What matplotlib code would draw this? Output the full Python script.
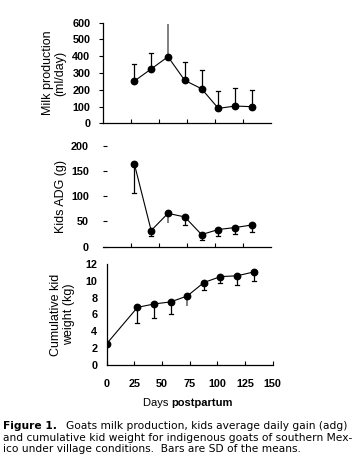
import matplotlib
matplotlib.use("Agg")
import matplotlib.pyplot as plt

plt.rcParams['font.family'] = ['Liberation Sans', 'DejaVu Sans']

# Data
days = [28, 43, 58, 73, 88, 103, 118, 133]
milk = [252, 324, 397, 256, 206, 89, 103, 99]
milk_sd = [102, 97, 195, 110, 112, 105, 106, 100]

adg = [164, 32, 66, 59, 24, 34, 38, 43]
adg_sd = [58, 11, 20, 16, 11, 13, 13, 14]

cum_days = [0, 28, 43, 58, 73, 88, 103, 118, 133]
cum_wt = [2.5, 6.85, 7.25, 7.5, 8.2, 9.8, 10.5, 10.6, 11.05]
cum_sd = [0, 1.85, 1.7, 1.45, 1.2, 0.9, 0.8, 1.05, 1.05]

grey_milk = 2   # index of grey error bar
grey_adg = 2
grey_cum = 4

W, H = 352, 469
fig = plt.figure(figsize=(W / 100, H / 100), dpi=100)

def fx(px):
    return px / W

def fy(py):
    return 1 - py / H

tick_fs = 7.8
lab_fs = 9.0

def draw_err(ax, x, y, sd, grey_idx, up):
    for i, (xi, yi, si) in enumerate(zip(x, y, sd)):
        if si <= 0:
            continue
        col = '#808080' if i == grey_idx else 'black'
        lw = 1.4 if i == grey_idx else 0.9
        y2 = yi + si if up else yi - si
        ax.plot([xi, xi], [yi, y2], color=col, lw=lw, zorder=2, solid_capstyle='butt')
        if i != grey_idx:
            ax.plot([xi - 1.8, xi + 1.8], [y2, y2], color='black', lw=0.9, zorder=2)

def style_ticklabels(ax):
    for lab in ax.get_xticklabels() + ax.get_yticklabels():
        lab.set_fontweight('bold')

def place_ylabel(ax, x):
    ax.yaxis.label.set_va('center')
    ax.yaxis.set_label_coords(x, 0.5)

# Top panel
ax1 = fig.add_axes([fx(103), fy(123.3), fx(168), (123.3 - 22.7) / H])
ax1.plot(days, milk, color='black', lw=0.8, marker='o', ms=4.6, zorder=3)
draw_err(ax1, days, milk, milk_sd, grey_milk, up=True)
ax1.set_xlim(0, 150)
ax1.set_ylim(0, 600)
ax1.set_yticks(range(0, 601, 100))
ax1.set_xticks([25, 50, 75, 100, 125])
ax1.tick_params(axis='x', direction='in', length=3, labelbottom=False, width=0.8)
ax1.tick_params(axis='y', direction='out', length=3, labelsize=tick_fs, width=0.8, pad=6)
ax1.spines['top'].set_visible(False)
ax1.spines['right'].set_visible(False)
ax1.set_ylabel('Milk production\n(ml/day)', fontsize=lab_fs, linespacing=1.05)
place_ylabel(ax1, (54 - 103) / 168)

# Middle panel
ax2 = fig.add_axes([fx(103), fy(246.7), fx(168), 101 / H])
ax2.plot(days, adg, color='black', lw=0.8, marker='o', ms=4.6, zorder=3)
draw_err(ax2, days, adg, adg_sd, grey_adg, up=False)
ax2.set_xlim(0, 150)
ax2.set_ylim(0, 200)
ax2.set_yticks(range(0, 201, 50))
ax2.set_xticks([25, 50, 75, 100, 125])
ax2.tick_params(axis='x', direction='in', length=3, labelbottom=False, width=0.8)
ax2.tick_params(axis='y', direction='in', length=3, labelsize=tick_fs, width=0.8, pad=10)
for s in ['top', 'right', 'left']:
    ax2.spines[s].set_visible(False)
ax2.set_ylabel('Kids ADG (g)', fontsize=lab_fs)
place_ylabel(ax2, (61 - 103) / 168)

# Bottom panel
ax3 = fig.add_axes([fx(106.5), fy(365), fx(166), 101 / H])
ax3.plot(cum_days, cum_wt, color='black', lw=0.8, marker='o', ms=4.6, zorder=3)
draw_err(ax3, cum_days, cum_wt, cum_sd, grey_cum, up=False)
ax3.set_xlim(0, 150)
ax3.set_ylim(0, 12)
ax3.set_yticks(range(0, 13, 2))
ax3.set_xticks(range(0, 151, 25))
ax3.tick_params(axis='x', direction='in', length=3, labelsize=tick_fs, width=0.8, pad=10)
ax3.tick_params(axis='y', direction='in', length=0, labelsize=tick_fs, width=0.8, pad=6.5)
ax3.spines['top'].set_visible(False)
ax3.spines['right'].set_visible(False)
ax3.set_ylabel('Cumulative kid\nweight (kg)', fontsize=lab_fs, linespacing=1.05)
place_ylabel(ax3, (62.5 - 106.5) / 166)

for ax in (ax1, ax2, ax3):
    for s in ax.spines.values():
        s.set_linewidth(0.9)
    style_ticklabels(ax)

# x label: "Days" regular, "postpartum" bold
xl_fs = 8.0
t1 = fig.text(fx(143), fy(403), 'Days ', fontsize=xl_fs, va='center', ha='left')
fig.canvas.draw()
bb = t1.get_window_extent()
fig.text(bb.x1 / W, fy(403), 'postpartum', fontsize=xl_fs, va='center', ha='left',
         fontweight='bold')

# Caption
cap_fs = 7.65
cap_fam = 'DejaVu Sans'
fig.text(fx(3), fy(426), 'Figure 1.', fontsize=cap_fs, va='center', ha='left',
         family=cap_fam, fontweight='bold')
fig.text(fx(66), fy(426), 'Goats milk production, kids average daily gain (adg)',
         fontsize=cap_fs, va='center', ha='left', family=cap_fam)
fig.text(fx(3), fy(437.5), 'and cumulative kid weight for indigenous goats of southern Mex-',
         fontsize=cap_fs, va='center', ha='left', family=cap_fam)
fig.text(fx(3), fy(449), 'ico under village conditions.  Bars are SD of the means.',
         fontsize=cap_fs, va='center', ha='left', family=cap_fam)

fig.savefig('out.png', dpi=100)
